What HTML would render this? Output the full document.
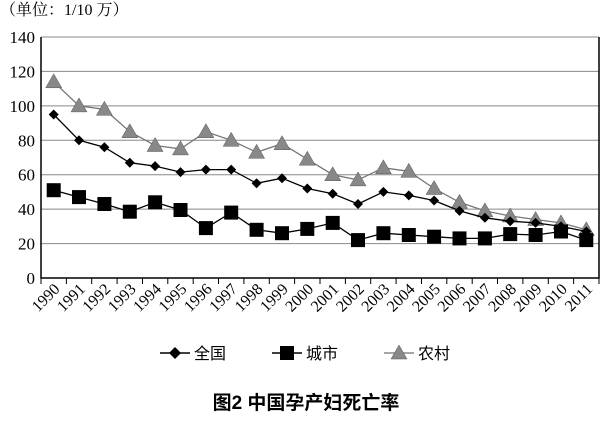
<!DOCTYPE html>
<html><head><meta charset="utf-8"><style>body{margin:0;background:#fff}svg{display:block}</style></head><body>
<svg width="612" height="429" xmlns="http://www.w3.org/2000/svg" font-family="Liberation Serif, 'Noto Serif CJK SC', serif">
<defs>
<marker id="tri" markerUnits="userSpaceOnUse" markerWidth="20" markerHeight="20" refX="10" refY="10" viewBox="0 0 20 20"><polygon points="10,2 18,16 2,16" fill="#888" stroke="#555" stroke-width="0.5"/></marker>
<marker id="sq" markerUnits="userSpaceOnUse" markerWidth="20" markerHeight="20" refX="10" refY="10" viewBox="0 0 20 20"><rect x="3" y="3" width="14" height="14" fill="#000"/></marker>
<marker id="dia" markerUnits="userSpaceOnUse" markerWidth="20" markerHeight="20" refX="10" refY="10" viewBox="0 0 20 20"><polygon points="10,5 15,10 10,15 5,10" fill="#000"/></marker>
</defs>
<text x="0" y="15" font-size="16" font-family="Liberation Serif, 'Noto Serif CJK SC', serif">（单位：1/10 万）</text>
<g stroke="#888" stroke-width="1">
<line x1="41" y1="243.6" x2="599" y2="243.6"/><line x1="41" y1="209.1" x2="599" y2="209.1"/><line x1="41" y1="174.7" x2="599" y2="174.7"/><line x1="41" y1="140.3" x2="599" y2="140.3"/><line x1="41" y1="105.9" x2="599" y2="105.9"/><line x1="41" y1="71.4" x2="599" y2="71.4"/><line x1="41" y1="37" x2="599" y2="37"/>
</g>
<polyline points="41,37 41,278 599,278 599,37" fill="none" stroke="#000" stroke-width="1.5"/>
<path stroke="#000" d="M41 278v6M66.4 278v6M91.7 278v6M117.1 278v6M142.5 278v6M167.8 278v6M193.2 278v6M218.5 278v6M243.9 278v6M269.3 278v6M294.6 278v6M320 278v6M345.4 278v6M370.7 278v6M396.1 278v6M421.5 278v6M446.8 278v6M472.2 278v6M497.5 278v6M522.9 278v6M548.3 278v6M573.6 278v6M599 278v6"/>
<polyline fill="none" stroke="#777" stroke-width="1.3" marker-start="url(#tri)" marker-mid="url(#tri)" marker-end="url(#tri)" points="53.7,81.8 79,105.9 104.4,109.3 129.8,131.7 155.1,145.5 180.5,148.9 205.9,131.7 231.2,140.3 256.6,152.3 282,143.7 307.3,159.2 332.7,174.7 358,179.9 383.4,167.8 408.8,171.3 434.1,188.5 459.5,202.3 484.9,210.9 510.2,216 535.6,219.5 561,222.9 586.3,229.8"/>
<polyline fill="none" stroke="#000" stroke-width="1.3" marker-start="url(#sq)" marker-mid="url(#sq)" marker-end="url(#sq)" points="53.7,190.2 79,197.1 104.4,204 129.8,211.7 155.1,202.3 180.5,210 205.9,228.1 231.2,212.6 256.6,229.8 282,233.2 307.3,228.9 332.7,222.9 358,240.1 383.4,233.2 408.8,235 434.1,236.7 459.5,238.4 484.9,238.4 510.2,234.1 535.6,235 561,231.5 586.3,240.1"/>
<polyline fill="none" stroke="#000" stroke-width="1.3" marker-start="url(#dia)" marker-mid="url(#dia)" marker-end="url(#dia)" points="53.7,114.5 79,140.3 104.4,147.2 129.8,162.7 155.1,166.1 180.5,172.1 205.9,169.6 231.2,169.6 256.6,183.3 282,178.2 307.3,188.5 332.7,193.7 358,204 383.4,191.9 408.8,195.4 434.1,200.5 459.5,210.9 484.9,217.8 510.2,221.2 535.6,222.9 561,226.4 586.3,231.5"/>
<g font-size="17" text-anchor="end">
<text x="35" y="284">0</text><text x="35" y="249.6">20</text><text x="35" y="215.1">40</text><text x="35" y="180.7">60</text><text x="35" y="146.3">80</text><text x="35" y="111.9">100</text><text x="35" y="77.4">120</text><text x="35" y="43">140</text>
</g>
<g font-size="16" text-anchor="end">
<text transform="translate(60.7,290) rotate(-45)">1990</text>
<text transform="translate(86,290) rotate(-45)">1991</text>
<text transform="translate(111.4,290) rotate(-45)">1992</text>
<text transform="translate(136.8,290) rotate(-45)">1993</text>
<text transform="translate(162.1,290) rotate(-45)">1994</text>
<text transform="translate(187.5,290) rotate(-45)">1995</text>
<text transform="translate(212.9,290) rotate(-45)">1996</text>
<text transform="translate(238.2,290) rotate(-45)">1997</text>
<text transform="translate(263.6,290) rotate(-45)">1998</text>
<text transform="translate(289,290) rotate(-45)">1999</text>
<text transform="translate(314.3,290) rotate(-45)">2000</text>
<text transform="translate(339.7,290) rotate(-45)">2001</text>
<text transform="translate(365,290) rotate(-45)">2002</text>
<text transform="translate(390.4,290) rotate(-45)">2003</text>
<text transform="translate(415.8,290) rotate(-45)">2004</text>
<text transform="translate(441.1,290) rotate(-45)">2005</text>
<text transform="translate(466.5,290) rotate(-45)">2006</text>
<text transform="translate(491.9,290) rotate(-45)">2007</text>
<text transform="translate(517.2,290) rotate(-45)">2008</text>
<text transform="translate(542.6,290) rotate(-45)">2009</text>
<text transform="translate(568,290) rotate(-45)">2010</text>
<text transform="translate(593.3,290) rotate(-45)">2011</text>
</g>
<g font-family="Liberation Sans, 'Noto Sans CJK SC', sans-serif" font-size="16">
<line x1="160" y1="353" x2="190" y2="353" stroke="#000" stroke-width="1.5"/><polygon points="175,347 181,353 175,359 169,353" fill="#000"/><text x="194" y="359">全国</text>
<line x1="272" y1="353" x2="302" y2="353" stroke="#000" stroke-width="1.5"/><rect x="280" y="346" width="14" height="14" fill="#000"/><text x="306" y="359">城市</text>
<line x1="384" y1="353" x2="414" y2="353" stroke="#888" stroke-width="1.5"/><polygon points="399,345 407,359 391,359" fill="#888" stroke="#555" stroke-width="0.5"/><text x="418" y="359">农村</text>
</g>
<text x="306" y="409" text-anchor="middle" font-size="19" font-weight="bold" font-family="Liberation Sans, 'Noto Sans CJK SC', sans-serif">图2  中国孕产妇死亡率</text>
</svg>
</body></html>
